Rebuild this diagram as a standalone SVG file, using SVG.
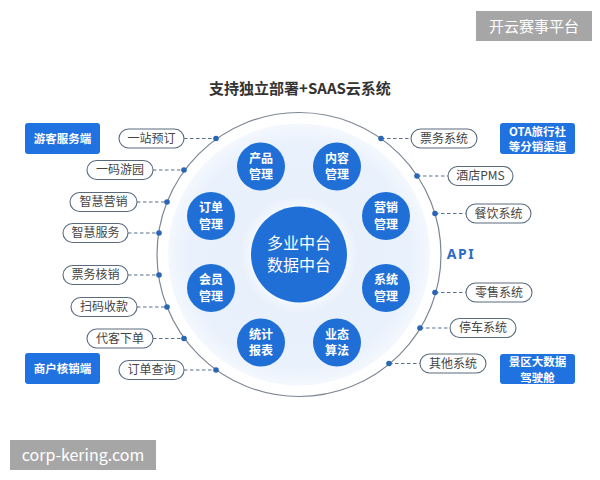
<svg xmlns="http://www.w3.org/2000/svg" width="600" height="480" viewBox="0 0 600 480">
<defs>
<radialGradient id="disk" cx="0.5" cy="0.5" r="0.5">
<stop offset="0" stop-color="#e6effb"/>
<stop offset="0.85" stop-color="#e9f1fc"/>
<stop offset="1" stop-color="#f4f8fe"/>
</radialGradient>
<radialGradient id="halo" cx="0.5" cy="0.5" r="0.5">
<stop offset="0.75" stop-color="#f7faff"/>
<stop offset="1" stop-color="#e8f0fb"/>
</radialGradient>
<style>
.title{font-family:"Noto Sans CJK SC","Noto Sans",sans-serif;font-size:15px;font-weight:bold;fill:#333}
.pill rect{fill:#fff;stroke:#5b6b7e;stroke-width:1.1}
.pill text{font-family:"Noto Sans CJK SC",sans-serif;font-size:12px;fill:#444;text-anchor:middle}
.node circle{fill:#1f6fd6}
.node text{font-family:"Noto Sans CJK SC",sans-serif;font-size:12px;font-weight:bold;fill:#fff;text-anchor:middle}
.node text.big{font-size:16px;font-weight:normal}
.box rect{fill:#1f72e0}
.box text{font-family:"Noto Sans CJK SC",sans-serif;font-size:11.5px;font-weight:bold;fill:#fff;text-anchor:middle}
.conn line{stroke:#5a718c;stroke-width:1.1;stroke-dasharray:3.5 2.5}
.conn circle{fill:#2a66b3}
.wm rect{fill:#a6a6a6}
.wm text{fill:#fff;font-family:"Noto Sans CJK SC","Liberation Sans",sans-serif}
</style>
</defs>
<rect width="600" height="480" fill="#fff"/>

<g id="watermark-top" class="wm"><rect x="476" y="11" width="116" height="30"/><text x="534" y="32" font-size="15" text-anchor="middle">开云赛事平台</text></g>

<text class="title" x="300" y="94" text-anchor="middle">支持独立部署+SAAS云系统</text>

<g id="ring">
<circle cx="299" cy="254.5" r="142" fill="#fff" stroke="#7d8794" stroke-width="1.2"/>
<circle cx="299" cy="254.5" r="131" fill="url(#disk)"/>
<circle cx="299" cy="254.5" r="59" fill="url(#halo)"/>
</g>

<g id="connectors" class="conn">
<line x1="184" y1="138.5" x2="216" y2="138.5"/><circle cx="216" cy="138.5" r="2.8"/>
<line x1="153" y1="170" x2="184" y2="170"/><circle cx="184" cy="170" r="2.8"/>
<line x1="137" y1="202" x2="167" y2="202"/><circle cx="167" cy="202" r="2.8"/>
<line x1="128" y1="233" x2="159" y2="233"/><circle cx="159" cy="233" r="2.8"/>
<line x1="128" y1="275" x2="159" y2="275"/><circle cx="159" cy="275" r="2.8"/>
<line x1="137" y1="307" x2="167" y2="307"/><circle cx="167" cy="307" r="2.8"/>
<line x1="153" y1="338.5" x2="184" y2="338.5"/><circle cx="184" cy="338.5" r="2.8"/>
<line x1="184" y1="370" x2="216" y2="370"/><circle cx="216" cy="370" r="2.8"/>
<line x1="381" y1="138.5" x2="411" y2="138.5"/><circle cx="381" cy="138.5" r="2.8"/>
<line x1="417" y1="176" x2="448" y2="176"/><circle cx="417" cy="176" r="2.8"/>
<line x1="435" y1="213.5" x2="466" y2="213.5"/><circle cx="435" cy="213.5" r="2.8"/>
<line x1="435" y1="292.5" x2="466" y2="292.5"/><circle cx="435" cy="292.5" r="2.8"/>
<line x1="420" y1="328" x2="450" y2="328"/><circle cx="420" cy="328" r="2.8"/>
<line x1="389" y1="363.5" x2="420" y2="363.5"/><circle cx="389" cy="363.5" r="2.8"/>
</g>

<g id="center" class="node"><circle cx="299" cy="254.5" r="48"/><text class="big" x="299" y="249">多业中台</text><text class="big" x="299" y="271">数据中台</text></g>

<g id="n-product" class="node"><circle cx="261" cy="166.5" r="24"/><text x="261" y="162.5">产品</text><text x="261" y="179">管理</text></g>
<g id="n-content" class="node"><circle cx="337" cy="166.5" r="24"/><text x="337" y="162.5">内容</text><text x="337" y="179">管理</text></g>
<g id="n-order" class="node"><circle cx="211" cy="216" r="24"/><text x="211" y="212">订单</text><text x="211" y="228.5">管理</text></g>
<g id="n-marketing" class="node"><circle cx="386" cy="216" r="24"/><text x="386" y="212">营销</text><text x="386" y="228.5">管理</text></g>
<g id="n-member" class="node"><circle cx="211" cy="288" r="24"/><text x="211" y="284">会员</text><text x="211" y="300.5">管理</text></g>
<g id="n-system" class="node"><circle cx="386" cy="288" r="24"/><text x="386" y="284">系统</text><text x="386" y="300.5">管理</text></g>
<g id="n-stats" class="node"><circle cx="261" cy="342.5" r="24"/><text x="261" y="338.5">统计</text><text x="261" y="355">报表</text></g>
<g id="n-algo" class="node"><circle cx="337" cy="342.5" r="24"/><text x="337" y="338.5">业态</text><text x="337" y="355">算法</text></g>

<g id="p1" class="pill"><rect x="119" y="129" width="65" height="19" rx="9.5"/><text x="151.5" y="142.8">一站预订</text></g>
<g id="p2" class="pill"><rect x="87" y="160.5" width="66" height="19" rx="9.5"/><text x="120" y="174.3">一码游园</text></g>
<g id="p3" class="pill"><rect x="70" y="192.5" width="67" height="19" rx="9.5"/><text x="103.5" y="206.3">智慧营销</text></g>
<g id="p4" class="pill"><rect x="63" y="223.5" width="65" height="19" rx="9.5"/><text x="95.5" y="237.3">智慧服务</text></g>
<g id="p5" class="pill"><rect x="63" y="265.5" width="65" height="19" rx="9.5"/><text x="95.5" y="279.3">票务核销</text></g>
<g id="p6" class="pill"><rect x="71" y="297.5" width="66" height="19" rx="9.5"/><text x="104" y="311.3">扫码收款</text></g>
<g id="p7" class="pill"><rect x="87" y="329" width="66" height="19" rx="9.5"/><text x="120" y="342.8">代客下单</text></g>
<g id="p8" class="pill"><rect x="119" y="360.5" width="65" height="19" rx="9.5"/><text x="151.5" y="374.3">订单查询</text></g>

<g id="q1" class="pill"><rect x="411" y="129" width="66" height="19" rx="9.5"/><text x="444" y="142.8">票务系统</text></g>
<g id="q2" class="pill"><rect x="448" y="166.5" width="65" height="19" rx="9.5"/><text x="480.5" y="180.3">酒店PMS</text></g>
<g id="q3" class="pill"><rect x="466" y="204" width="65" height="19" rx="9.5"/><text x="498.5" y="217.8">餐饮系统</text></g>
<g id="q4" class="pill"><rect x="466" y="283" width="66" height="19" rx="9.5"/><text x="499" y="296.8">零售系统</text></g>
<g id="q5" class="pill"><rect x="450" y="318.5" width="66" height="19" rx="9.5"/><text x="483" y="332.3">停车系统</text></g>
<g id="q6" class="pill"><rect x="420" y="354" width="66" height="19" rx="9.5"/><text x="453" y="367.8">其他系统</text></g>

<g id="b1" class="box"><rect x="25" y="123" width="75" height="31" rx="3"/><text x="62.5" y="142.5">游客服务端</text></g>
<g id="b2" class="box"><rect x="25" y="353" width="75" height="31" rx="3"/><text x="62.5" y="372.5">商户核销端</text></g>
<g id="b3" class="box"><rect x="500" y="123" width="75" height="31" rx="3"/><text x="537.5" y="135.5">OTA旅行社</text><text x="537.5" y="151">等分销渠道</text></g>
<g id="b4" class="box"><rect x="500" y="354" width="75" height="30" rx="3"/><text x="537.5" y="366">景区大数据</text><text x="537.5" y="381.5">驾驶舱</text></g>

<text x="461" y="259" font-family="Noto Sans,DejaVu Sans,sans-serif" font-size="14" font-weight="bold" fill="#2c6cc0" letter-spacing="1.5" text-anchor="middle">API</text>

<g id="watermark-bottom" class="wm"><rect x="10" y="440" width="146" height="30"/><text x="83" y="461" font-size="16" text-anchor="middle" font-family="Liberation Sans,sans-serif">corp-kering.com</text></g>
</svg>
